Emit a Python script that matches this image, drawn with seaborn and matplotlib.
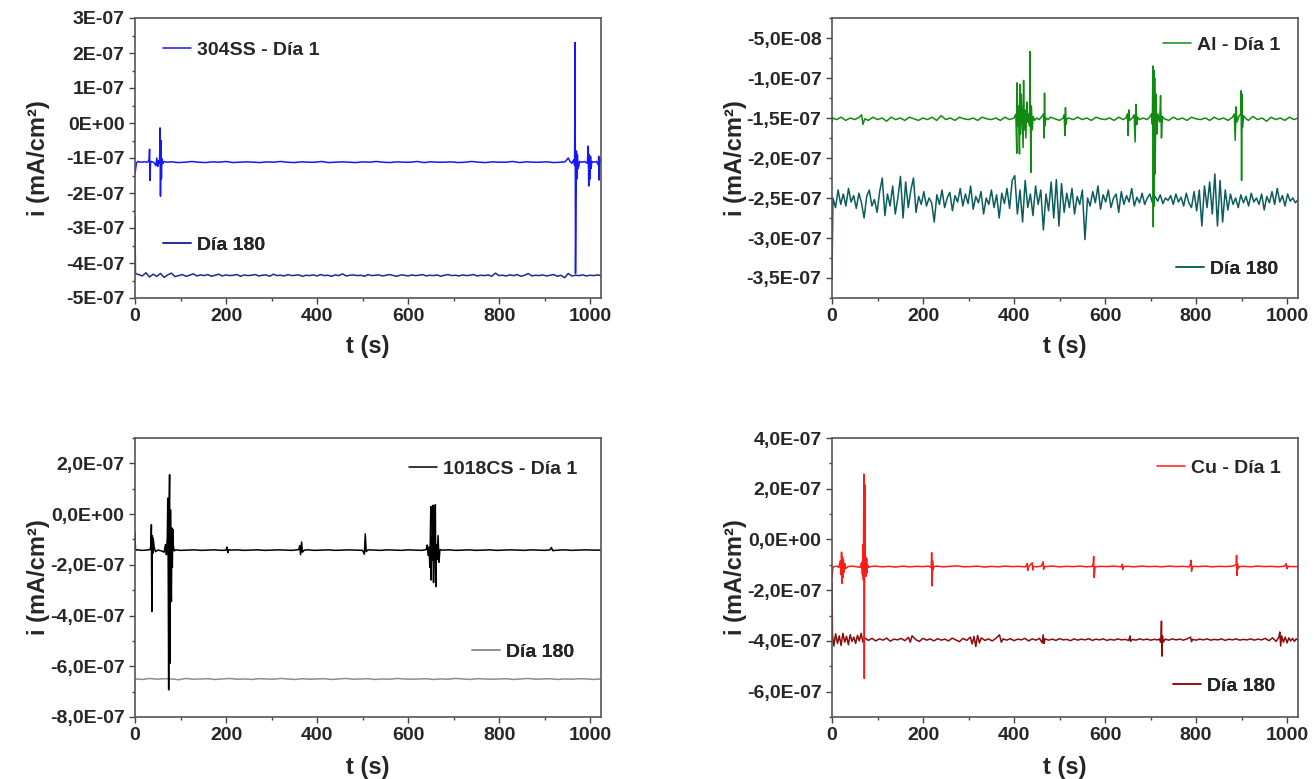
import numpy as np
import matplotlib
matplotlib.use("Agg")
import matplotlib.pyplot as plt
import seaborn as sns
from matplotlib.ticker import MultipleLocator, FuncFormatter

# -----------------------------
# Data (current density, in units of 1E-07 mA/cm2)
# -----------------------------
U = 1e-7

# 304SS - Dia 1
ss1_t = [0, 1, 3, 6, 12, 20, 28, 31, 32, 33,
         34, 36, 42, 46, 48, 50, 52, 54, 55, 56,
         57, 58, 59, 61, 64, 70, 80, 95, 110, 125,
         140, 155, 170, 185, 200, 215, 230, 245, 260, 275,
         290, 305, 320, 335, 350, 365, 380, 395, 410, 425,
         440, 455, 470, 485, 500, 515, 530, 545, 560, 575,
         590, 605, 620, 635, 650, 665, 680, 695, 710, 725,
         740, 755, 770, 785, 800, 815, 830, 845, 860, 875,
         890, 905, 920, 935, 945, 952, 956, 960, 964, 966,
         967, 968, 969, 970, 971, 972, 974, 977, 982, 988,
         994, 996, 997, 998, 1000, 1001, 1002, 1004, 1008, 1014,
         1018, 1019, 1020, 1021, 1022, 1024]
ss1_v = [-1.45, -1.35, -1.15, -1.10, -1.12, -1.11, -1.12, -1.05, -0.75, -1.64,
         -1.15, -1.10, -1.13, -1.22, -1.00, -1.24, -1.08, -1.15, -0.14, -2.09,
         -0.50, -1.60, -1.02, -1.16, -1.10, -1.12, -1.11, -1.13, -1.12, -1.10,
         -1.12, -1.13, -1.11, -1.12, -1.10, -1.13, -1.12, -1.11, -1.12, -1.13,
         -1.11, -1.12, -1.10, -1.12, -1.13, -1.11, -1.12, -1.12, -1.10, -1.13,
         -1.12, -1.11, -1.12, -1.13, -1.11, -1.12, -1.10, -1.12, -1.13, -1.11,
         -1.12, -1.12, -1.10, -1.13, -1.11, -1.12, -1.12, -1.11, -1.13, -1.12,
         -1.10, -1.12, -1.13, -1.11, -1.12, -1.12, -1.10, -1.13, -1.11, -1.12,
         -1.12, -1.11, -1.13, -1.12, -1.11, -1.00, -1.10, -1.15, -1.05, -1.20,
         2.30, -4.30, -2.30, -0.80, -1.60, -0.90, -1.30, -1.10, -1.12, -1.10,
         -1.15, -0.66, -1.80, -0.90, -1.60, -0.95, -1.30, -1.10, -1.12, -1.10,
         -1.20, -0.95, -1.63, -1.00, -1.12, -1.10]

# 304SS - Dia 180
ss180_t = np.r_[0, 1, np.arange(8, 1025, 8)]
ss180_v = [-2.68, -4.30,
           -4.33, -4.37, -4.28, -4.40, -4.32, -4.38, -4.30, -4.41, -4.34, -4.29, -4.39, -4.36, -4.33, -4.38, -4.35, -4.31,
           -4.37, -4.34, -4.36, -4.33, -4.38, -4.35, -4.32, -4.37, -4.34, -4.36, -4.35, -4.33, -4.38, -4.34, -4.36, -4.35,
           -4.33, -4.37, -4.35, -4.34, -4.38, -4.32, -4.36, -4.35, -4.37, -4.33, -4.36, -4.35, -4.34, -4.38, -4.35, -4.36,
           -4.34, -4.37, -4.33, -4.36, -4.35, -4.38, -4.34, -4.36, -4.31, -4.37, -4.35, -4.34, -4.36, -4.35, -4.38, -4.33,
           -4.36, -4.35, -4.34, -4.37, -4.35, -4.33, -4.36, -4.38, -4.34, -4.35, -4.37, -4.34, -4.36, -4.35, -4.33, -4.37,
           -4.35, -4.36, -4.34, -4.38, -4.35, -4.33, -4.36, -4.35, -4.37, -4.34, -4.36, -4.35, -4.33, -4.37, -4.35, -4.36,
           -4.34, -4.38, -4.29, -4.36, -4.35, -4.37, -4.34, -4.36, -4.33, -4.38, -4.35, -4.30, -4.37, -4.35, -4.36, -4.34,
           -4.37, -4.35, -4.33, -4.38, -4.35, -4.42, -4.30, -4.37, -4.35, -4.36, -4.34, -4.37, -4.35, -4.36, -4.34, -4.36]

# Al - Dia 1
al1_t = [0, 2, 10, 20, 30, 40, 50, 60, 65, 68,
         72, 80, 90, 100, 110, 120, 130, 140, 150, 160,
         170, 180, 190, 200, 210, 220, 230, 240, 250, 260,
         270, 280, 290, 300, 310, 320, 330, 340, 350, 360,
         370, 380, 390, 400, 404, 406, 407, 408, 410, 412,
         413, 414, 416, 418, 420, 421, 422, 424, 426, 428,
         430, 432, 434, 435, 436, 437, 438, 440, 442, 445,
         450, 455, 460, 465, 466, 467, 468, 470, 475, 480,
         490, 500, 508, 510, 512, 513, 514, 516, 520, 530,
         540, 550, 560, 570, 580, 590, 600, 610, 620, 630,
         640, 646, 649, 651, 652, 654, 660, 664, 666, 668,
         670, 672, 676, 684, 692, 698, 702, 704, 705, 706,
         707, 708, 709, 710, 712, 714, 716, 720, 722, 724,
         726, 730, 740, 750, 760, 770, 780, 790, 800, 810,
         820, 830, 840, 850, 860, 870, 880, 884, 886, 888,
         890, 894, 898, 899, 900, 901, 902, 904, 908, 915,
         925, 935, 945, 955, 965, 975, 985, 995, 1005, 1015,
         1024]
al1_v = [-1.55, -1.50, -1.52, -1.49, -1.53, -1.50, -1.52, -1.49, -1.46, -1.58,
         -1.51, -1.53, -1.49, -1.52, -1.50, -1.54, -1.49, -1.52, -1.50, -1.53,
         -1.49, -1.51, -1.53, -1.50, -1.52, -1.49, -1.53, -1.47, -1.52, -1.50,
         -1.53, -1.49, -1.51, -1.52, -1.50, -1.53, -1.49, -1.51, -1.52, -1.50,
         -1.53, -1.49, -1.52, -1.50, -1.45, -1.94, -1.06, -1.60, -1.35, -1.95,
         -1.08, -1.70, -1.20, -1.55, -1.87, -1.03, -1.65, -1.40, -1.75, -1.30,
         -1.55, -1.45, -1.60, -0.67, -1.50, -2.18, -1.35, -1.65, -1.48, -1.53,
         -1.50, -1.52, -1.49, -1.45, -1.75, -1.19, -1.60, -1.50, -1.52, -1.49,
         -1.51, -1.53, -1.50, -1.46, -1.72, -1.37, -1.58, -1.51, -1.50, -1.52,
         -1.49, -1.52, -1.50, -1.53, -1.49, -1.51, -1.52, -1.50, -1.53, -1.49,
         -1.52, -1.50, -1.45, -1.72, -1.40, -1.53, -1.50, -1.46, -1.80, -1.33,
         -1.58, -1.49, -1.52, -1.50, -1.52, -1.49, -1.45, -1.58, -0.85, -2.86,
         -0.90, -2.60, -1.00, -2.20, -1.20, -1.70, -1.45, -1.55, -1.22, -1.75,
         -1.48, -1.51, -1.53, -1.49, -1.52, -1.50, -1.53, -1.49, -1.51, -1.52,
         -1.50, -1.53, -1.49, -1.52, -1.50, -1.53, -1.49, -1.45, -1.78, -1.36,
         -1.55, -1.48, -1.45, -1.16, -2.28, -1.20, -1.62, -1.47, -1.50, -1.53,
         -1.48, -1.52, -1.50, -1.54, -1.49, -1.52, -1.50, -1.53, -1.49, -1.52,
         -1.50]

# Al - Dia 180
al180_t = np.r_[0, np.linspace(2, 1024, 180)]
al180_v = [-3.50,
           -2.50, -2.62, -2.40, -2.58, -2.45, -2.60, -2.38, -2.55, -2.47, -2.63,
           -2.44, -2.56, -2.75, -2.48, -2.40, -2.60, -2.52, -2.68, -2.42, -2.25,
           -2.72, -2.45, -2.60, -2.35, -2.70, -2.50, -2.23, -2.75, -2.30, -2.62,
           -2.40, -2.25, -2.68, -2.48, -2.58, -2.42, -2.60, -2.50, -2.56, -2.80,
           -2.46, -2.58, -2.40, -2.62, -2.50, -2.43, -2.66, -2.47, -2.55, -2.38,
           -2.60, -2.45, -2.57, -2.35, -2.64, -2.48, -2.56, -2.42, -2.70, -2.50,
           -2.58, -2.40, -2.62, -2.46, -2.75, -2.44, -2.57, -2.38, -2.63, -2.28,
           -2.22, -2.70, -2.40, -2.80, -2.28, -2.62, -2.45, -2.72, -2.35, -2.58,
           -2.40, -2.90, -2.45, -2.66, -2.30, -2.75, -2.27, -2.85, -2.32, -2.68,
           -2.44, -2.62, -2.38, -2.70, -2.48, -2.58, -2.40, -3.02, -2.50, -2.60,
           -2.42, -2.56, -2.35, -2.64, -2.46, -2.55, -2.40, -2.62, -2.50, -2.45,
           -2.68, -2.42, -2.58, -2.47, -2.55, -2.38, -2.60, -2.49, -2.56, -2.44,
           -2.58, -2.50, -2.45, -2.56, -2.48, -2.54, -2.46, -2.57, -2.50, -2.53,
           -2.47, -2.58, -2.45, -2.55, -2.49, -2.60, -2.44, -2.56, -2.62, -2.42,
           -2.66, -2.40, -2.85, -2.35, -2.62, -2.30, -2.70, -2.20, -2.85, -2.28,
           -2.80, -2.40, -2.65, -2.45, -2.58, -2.50, -2.62, -2.46, -2.56, -2.48,
           -2.60, -2.44, -2.55, -2.50, -2.58, -2.45, -2.65, -2.48, -2.56, -2.42,
           -2.58, -2.38, -2.55, -2.47, -2.60, -2.45, -2.54, -2.50, -2.56, -2.52]

# 1018CS - Dia 1
cs1_t = [0, 1, 3, 6, 15, 25, 33, 35, 36, 37,
         38, 39, 40, 42, 45, 50, 58, 64, 67, 69,
         71, 72, 73, 74, 75, 76, 77, 78, 79, 80,
         81, 82, 83, 84, 86, 90, 100, 115, 130, 145,
         160, 175, 190, 200, 202, 204, 206, 210, 225, 240,
         255, 270, 285, 300, 315, 330, 345, 360, 362, 364,
         366, 368, 372, 380, 395, 410, 425, 440, 455, 470,
         485, 500, 504, 506, 508, 512, 525, 540, 555, 570,
         585, 600, 615, 630, 640, 642, 644, 646, 648, 650,
         651, 652, 654, 655, 656, 658, 660, 661, 662, 664,
         666, 668, 670, 675, 690, 705, 720, 735, 750, 765,
         780, 795, 810, 825, 840, 855, 870, 885, 900, 912,
         915, 918, 930, 945, 960, 975, 990, 1005, 1024]
cs1_v = [-0.72, -1.38, -1.42, -1.41, -1.43, -1.42, -1.40, -1.25, -0.42, -3.84,
         -0.85, -1.55, -0.95, -1.30, -1.48, -1.42, -1.45, -1.50, -1.20, -1.60,
         -0.90, 0.63, -2.20, -6.93, 0.20, 1.55, -5.88, 0.17, -2.60, -3.45,
         -0.55, -2.10, -0.60, -1.20, -1.45, -1.41, -1.43, -1.42, -1.41, -1.43,
         -1.42, -1.41, -1.43, -1.42, -1.30, -1.52, -1.40, -1.42, -1.41, -1.43,
         -1.42, -1.41, -1.43, -1.42, -1.41, -1.42, -1.43, -1.40, -1.25, -1.60,
         -1.10, -1.50, -1.42, -1.41, -1.43, -1.42, -1.41, -1.43, -1.42, -1.41,
         -1.42, -1.43, -1.58, -0.78, -1.48, -1.41, -1.42, -1.43, -1.41, -1.42,
         -1.43, -1.41, -1.42, -1.43, -1.40, -1.22, -1.62, -1.30, -2.10, 0.30,
         -2.60, -0.90, -1.80, 0.35, -2.70, -0.50, 0.37, -2.86, -1.20, -1.80,
         -0.85, -1.90, -1.40, -1.42, -1.41, -1.43, -1.42, -1.41, -1.43, -1.42,
         -1.41, -1.43, -1.42, -1.41, -1.42, -1.43, -1.41, -1.42, -1.43, -1.41,
         -1.32, -1.44, -1.42, -1.41, -1.43, -1.42, -1.41, -1.42, -1.42]

# 1018CS - Dia 180
cs180_t = np.arange(0, 1025, 16)
cs180_v = [-6.50, -6.52, -6.48, -6.51, -6.49, -6.50, -6.53, -6.48, -6.51, -6.50, -6.49, -6.52, -6.50,
           -6.48, -6.51, -6.50, -6.52, -6.49, -6.50, -6.51, -6.48, -6.50, -6.52, -6.49, -6.51, -6.50,
           -6.49, -6.52, -6.50, -6.48, -6.51, -6.50, -6.49, -6.52, -6.50, -6.51, -6.48, -6.50, -6.51,
           -6.50, -6.49, -6.52, -6.50, -6.51, -6.48, -6.50, -6.52, -6.49, -6.50, -6.51, -6.50, -6.49,
           -6.52, -6.50, -6.48, -6.51, -6.50, -6.49, -6.52, -6.50, -6.51, -6.49, -6.50, -6.52, -6.50]

# Cu - Dia 1
cu1_t = [0, 2, 5, 10, 15, 18, 20, 21, 22, 23,
         24, 25, 26, 28, 30, 35, 45, 55, 62, 65,
         67, 68, 69, 70, 71, 72, 73, 74, 75, 76,
         77, 78, 80, 85, 95, 110, 125, 140, 155, 170,
         185, 200, 212, 218, 219, 220, 221, 222, 224, 230,
         245, 260, 275, 290, 305, 320, 335, 350, 365, 380,
         395, 410, 425, 429, 430, 432, 440, 441, 442, 450,
         460, 464, 465, 466, 470, 485, 500, 515, 530, 545,
         560, 572, 574, 575, 576, 578, 590, 605, 620, 635,
         638, 639, 640, 650, 665, 680, 695, 710, 725, 740,
         755, 770, 785, 788, 789, 790, 792, 805, 820, 835,
         850, 865, 880, 888, 889, 890, 891, 892, 895, 905,
         920, 935, 950, 965, 980, 995, 998, 1000, 1002, 1010,
         1024]
cu1_v = [-1.55, -1.10, -1.07, -1.05, -1.10, -0.85, -1.40, -0.50, -1.73, -0.70,
         -1.50, -0.80, -1.30, -0.95, -1.15, -1.07, -1.05, -1.08, -1.10, -0.90,
         -1.40, -0.20, -1.60, 2.58, -5.48, 2.16, -1.20, -0.70, -1.45, -0.75,
         -1.30, -1.00, -1.10, -1.07, -1.05, -1.08, -1.06, -1.09, -1.05, -1.08,
         -1.06, -1.07, -1.05, -1.10, -0.52, -1.83, -0.85, -1.20, -1.07, -1.05,
         -1.08, -1.06, -1.04, -1.08, -1.07, -1.05, -1.09, -1.06, -1.08, -1.05,
         -1.07, -1.06, -1.08, -0.95, -1.22, -1.07, -0.92, -1.20, -1.06, -1.08,
         -1.05, -0.88, -1.18, -1.06, -1.07, -1.05, -1.08, -1.06, -1.07, -1.05,
         -1.08, -1.06, -0.95, -0.67, -1.50, -1.08, -1.06, -1.07, -1.05, -1.08,
         -0.98, -1.18, -1.07, -1.06, -1.08, -1.05, -1.07, -1.06, -1.08, -1.05,
         -1.07, -1.06, -1.08, -0.95, -0.82, -1.25, -1.06, -1.07, -1.05, -1.08,
         -1.06, -1.07, -1.05, -1.00, -0.63, -1.42, -0.95, -1.15, -1.07, -1.06,
         -1.08, -1.05, -1.07, -1.06, -1.08, -1.05, -0.95, -1.15, -1.06, -1.07,
         -1.07]

# Cu - Dia 180
cu180_t = [0, 1, 4, 8, 12, 16, 20, 24, 28, 32,
           36, 40, 44, 48, 52, 56, 60, 64, 68, 72,
           80, 88, 96, 104, 112, 120, 128, 136, 144, 152,
           160, 168, 172, 176, 184, 192, 200, 208, 216, 224,
           232, 240, 248, 256, 264, 272, 280, 288, 296, 304,
           308, 312, 316, 320, 324, 328, 336, 344, 352, 360,
           368, 372, 376, 384, 392, 400, 408, 416, 424, 432,
           440, 448, 456, 462, 464, 466, 468, 476, 484, 492,
           500, 508, 516, 524, 532, 540, 548, 556, 564, 572,
           580, 588, 596, 604, 612, 620, 628, 636, 644, 652,
           655, 656, 660, 668, 676, 684, 692, 700, 708, 716,
           720, 722, 723, 724, 725, 726, 728, 732, 740, 748,
           756, 764, 772, 780, 788, 790, 792, 800, 808, 816,
           824, 832, 840, 848, 856, 864, 872, 880, 888, 896,
           904, 912, 920, 928, 936, 944, 952, 960, 968, 976,
           982, 984, 986, 988, 992, 996, 1000, 1004, 1008, 1012,
           1016, 1020, 1024]
cu180_v = [-1.70, -3.75, -4.20, -3.72, -4.10, -3.80, -4.18, -3.70, -4.05, -3.82,
           -4.15, -3.75, -4.02, -3.85, -4.10, -3.78, -4.00, -3.70, -4.05, -3.88,
           -3.98, -3.90, -4.00, -3.92, -3.97, -3.89, -4.01, -3.93, -3.96, -3.90,
           -3.99, -3.86, -4.05, -3.80, -3.95, -4.02, -3.90, -3.97, -3.92, -4.00,
           -3.91, -3.97, -3.93, -4.00, -3.89, -3.96, -4.03, -3.90, -3.98, -3.85,
           -4.12, -3.82, -4.22, -3.78, -4.08, -3.88, -3.98, -3.92, -4.00, -3.90,
           -3.76, -4.05, -3.92, -3.97, -3.91, -3.99, -3.93, -3.96, -3.90, -4.00,
           -3.92, -3.97, -3.90, -4.08, -3.76, -4.10, -3.92, -3.97, -3.93, -3.98,
           -3.91, -3.96, -3.94, -3.99, -3.92, -3.97, -3.93, -3.96, -3.91, -3.98,
           -3.93, -3.96, -3.92, -3.98, -3.94, -3.97, -3.92, -3.96, -3.94, -3.98,
           -3.80, -4.02, -3.94, -3.97, -3.92, -3.96, -3.93, -3.97, -3.94, -3.96,
           -3.92, -4.05, -3.85, -3.22, -4.60, -3.80, -4.05, -3.93, -3.97, -3.92,
           -3.96, -3.93, -3.97, -3.92, -3.85, -4.03, -3.94, -3.97, -3.93, -3.96,
           -3.92, -3.97, -3.94, -3.96, -3.92, -3.98, -3.93, -3.96, -3.92, -3.97,
           -3.94, -3.96, -3.92, -3.97, -3.93, -3.96, -3.90, -3.99, -3.88, -4.02,
           -3.85, -3.65, -4.20, -3.80, -4.05, -3.85, -4.08, -3.88, -4.00, -3.90,
           -4.02, -3.92, -3.97]

labels = [("304SS - Día 1", "Día 180"), ("Al - Día 1", "Día 180"),
          ("1018CS - Día 1", "Día 180"), ("Cu - Día 1", "Día 180")]

# -----------------------------
# Style
# -----------------------------
sns.set_theme(style="ticks")
plt.rcParams["font.family"] = ["Liberation Sans", "DejaVu Sans"]
plt.rcParams["font.weight"] = "bold"
plt.rcParams["axes.labelweight"] = "bold"

W, H = 1314, 779
fig = plt.figure(figsize=(W / 100, H / 100), dpi=100)


def rect(x0, x1, y0, y1):
    return [x0 / W, 1 - y1 / H, (x1 - x0) / W, (y1 - y0) / H]


def sci0(v, pos):
    return f"{round(v, 13) + 0.0:.0E}"


def sci1(v, pos):
    return f"{round(v, 13) + 0.0:.1E}".replace(".", ",")


def panel(box, s1, s180, colors, labs, ylim, major, fmt, anchors, xlab_y):
    ax = fig.add_axes(box)
    # day 180 first so day 1 spikes sit on top
    sns.lineplot(x=np.asarray(s180[0]), y=np.asarray(s180[1]) * U, ax=ax,
                 color=colors[1], linewidth=1.1, estimator=None, sort=False)
    l180 = ax.lines[-1]
    sns.lineplot(x=np.asarray(s1[0]), y=np.asarray(s1[1]) * U, ax=ax,
                 color=colors[0], linewidth=1.1, estimator=None, sort=False)
    l1 = ax.lines[-1]

    ax.set_xlim(0, 1024)
    ax.set_ylim(*ylim)
    ax.xaxis.set_major_locator(MultipleLocator(200))
    ax.xaxis.set_minor_locator(MultipleLocator(100))
    ax.yaxis.set_major_locator(MultipleLocator(major))
    ax.yaxis.set_minor_locator(MultipleLocator(major / 2))
    ax.yaxis.set_major_formatter(FuncFormatter(fmt))
    ax.tick_params(which="major", length=4.5, width=1, pad=3,
                   labelsize=14, color="#444444")
    ax.tick_params(which="minor", length=2.5, width=1, color="#444444")
    for sp in ax.spines.values():
        sp.set_visible(True)
        sp.set_color("#555555")
        sp.set_linewidth(1.2)

    ax.set_xlabel("t (s)", fontsize=17, fontweight="bold")
    ax.set_ylabel("i (mA/cm²)", fontsize=17, fontweight="bold")
    ax.xaxis.set_label_coords(0.5, xlab_y)
    ax.yaxis.set_label_coords(-0.182, 0.5)

    for line, lab, anc in [(l1, labs[0], anchors[0]), (l180, labs[1], anchors[1])]:
        leg = ax.legend([line], [lab], loc="center left", bbox_to_anchor=anc,
                        frameon=False, borderpad=0, borderaxespad=0,
                        handlelength=1.45, handletextpad=0.3,
                        prop={"size": 14, "weight": "bold"})
        ax.add_artist(leg)
    return ax


panel(rect(135, 601, 18, 298), (ss1_t, ss1_v), (ss180_t, ss180_v),
      ("#1515ff", "#1e2a8c"), labels[0], (-5e-7, 3e-7), 1e-7, sci0,
      [(0.060, 0.886), (0.060, 0.189)], -0.132)

panel(rect(832, 1298, 18, 298), (al1_t, al1_v), (al180_t, al180_v),
      ("#118a11", "#0c5c5c"), labels[1], (-3.75e-7, -2.5e-8), 5e-8, sci1,
      [(0.710, 0.904), (0.738, 0.104)], -0.132)

panel(rect(135, 601, 438, 717), (cs1_t, cs1_v), (cs180_t, cs180_v),
      ("#000000", "#8c8c8c"), labels[2], (-8e-7, 3e-7), 2e-7, sci1,
      [(0.588, 0.889), (0.723, 0.233)], -0.138)

panel(rect(832, 1298, 438, 717), (cu1_t, cu1_v), (cu180_t, cu180_v),
      ("#ff1a1a", "#8b0a0a"), labels[3], (-7e-7, 4e-7), 2e-7, sci1,
      [(0.697, 0.892), (0.732, 0.111)], -0.138)

fig.savefig("out.png", dpi=100)
